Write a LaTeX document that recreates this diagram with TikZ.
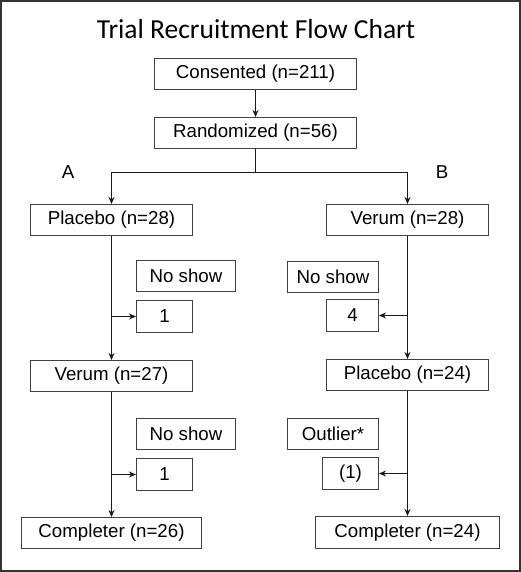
\documentclass[tikz,border=0pt]{standalone}
\usepackage{fontspec}
\setmainfont{Liberation Sans}
\newfontfamily\titlefont{Carlito}
\usetikzlibrary{arrows.meta}
\begin{document}
\begin{tikzpicture}[x=1pt,y=-1pt,
  box/.style={draw=black!75,line width=1pt,inner sep=0pt,font=\fontsize{18.7}{20}\selectfont,text=black},
  conn/.style={draw=black!90,line width=1pt},
  arr/.style={conn,-{Stealth[length=7pt,width=6pt]}},
  lbl/.style={font=\fontsize{18.7}{20}\selectfont,text=black}]
\useasboundingbox (0,0) rectangle (521,572);
\draw[black!80,line width=1.6pt] (0.8,0.8) rectangle (520.2,571.2);
\node[font=\titlefont\fontsize{27.5}{30}\selectfont,anchor=base,text=black] (title) at (256,39) {Trial Recruitment Flow Chart};
\node[box,minimum width=202pt,minimum height=31pt] (cons) at (255.5,74) {Consented (n=211)};
\node[box,minimum width=202pt,minimum height=31pt] (rand) at (255.5,133) {Randomized (n=56)};
\node[box,minimum width=162pt,minimum height=31pt] (pa) at (111.5,220) {Placebo (n=28)};
\node[box,minimum width=162pt,minimum height=31pt] (vb) at (407.5,220) {Verum (n=28)};
\node[box,minimum width=99pt,minimum height=31pt] (nsa1) at (186,276) {No show};
\node[box,minimum width=56pt,minimum height=32pt] (na1) at (164.5,316.5) {1};
\node[box,minimum width=91pt,minimum height=31pt] (nsb) at (333,277) {No show};
\node[box,minimum width=52pt,minimum height=32pt] (nb1) at (352.5,315.5) {4};
\node[box,minimum width=162pt,minimum height=31pt] (va) at (111.5,376) {Verum (n=27)};
\node[box,minimum width=162pt,minimum height=31pt] (pb) at (407.5,375) {Placebo (n=24)};
\node[box,minimum width=99pt,minimum height=31pt] (nsa2) at (186,434) {No show};
\node[box,minimum width=56pt,minimum height=32pt] (na2) at (164.5,474.5) {1};
\node[box,minimum width=91pt,minimum height=31pt] (outl) at (333,434) {Outlier*};
\node[box,minimum width=56pt,minimum height=32pt] (nb2) at (350.5,473.5) {(1)};
\node[box,minimum width=180pt,minimum height=31pt] (ca) at (111.5,533) {Completer (n=26)};
\node[box,minimum width=184pt,minimum height=32pt] (cb) at (407.5,532.5) {Completer (n=24)};
\node[lbl] (A) at (68,172) {A};
\node[lbl] (B) at (442,172) {B};
\coordinate (split) at (255.5,172.5);
\draw[arr] (cons) -- (rand);
\draw[conn] (rand.south) -- (split);
\draw[arr] (split) -| (pa.north);
\draw[arr] (split) -| (vb.north);
\draw[arr] (pa) -- (va);
\draw[arr] (va) -- (ca);
\draw[arr] (vb) -- (pb);
\draw[arr] (pb) -- (cb);
\draw[arr] (pa.south |- na1.west) -- (na1.west);
\draw[arr] (va.south |- na2.west) -- (na2.west);
\draw[arr] (vb.south |- nb1.east) -- (nb1.east);
\draw[arr] (pb.south |- nb2.east) -- (nb2.east);
\end{tikzpicture}
\end{document}
